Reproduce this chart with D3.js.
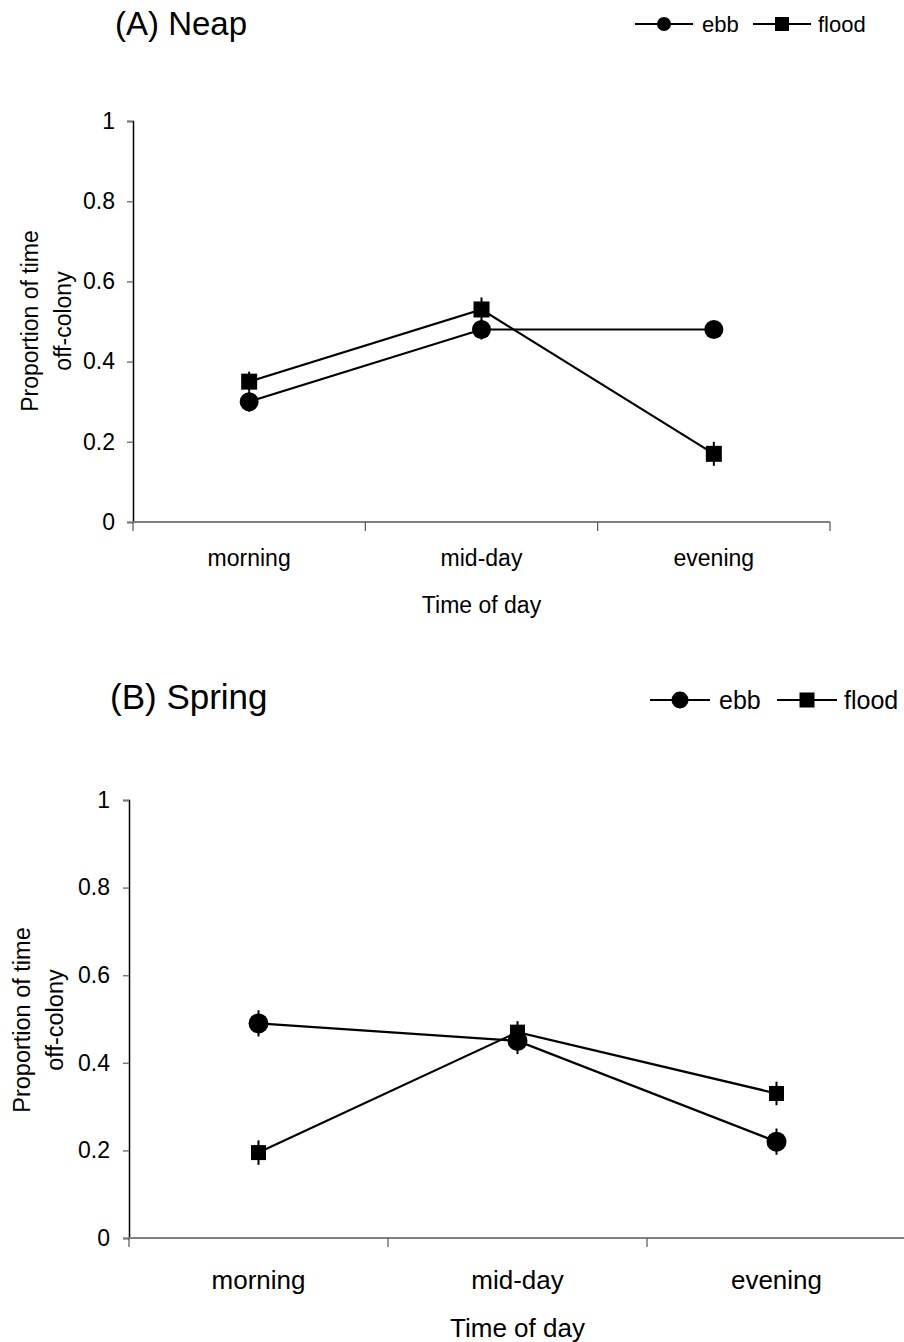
<!DOCTYPE html>
<html>
<head>
<meta charset="utf-8">
<script src="https://cdn.jsdelivr.net/npm/d3@7"></script>
<style>
body { margin: 0; background: #fff; }
svg { font-family: "Liberation Sans", Arial, sans-serif; }
</style>
</head>
<body>
<svg id="chart" width="904" height="1342"></svg>
<script>
// the data
var categories = ["morning", "mid-day", "evening"];
var yTicks = [0, 0.2, 0.4, 0.6, 0.8, 1];

var neapEbb = [0.30, 0.48, 0.48];
var neapEbbErr = [0.025, 0.025, 0.02];
var neapFlood = [0.35, 0.53, 0.17];
var neapFloodErr = [0.025, 0.03, 0.03];

var springEbb = [0.49, 0.45, 0.22];
var springEbbErr = [0.03, 0.03, 0.03];
var springFlood = [0.195, 0.47, 0.33];
var springFloodErr = [0.028, 0.025, 0.027];

var svg = d3.select("#chart");

// one panel: title, legend, axes, two series
function drawPanel(p) {
  var x = d3.scaleBand().domain(categories).range([p.left, p.right]);
  var y = d3.scaleLinear().domain([0, 1]).range([p.bottom, p.top]);
  var g = svg.append("g");

  // title
  g.append("text")
    .attr("x", p.titleX).attr("y", p.titleY)
    .style("font-size", p.titleSize + "px")
    .text(p.title);

  // y axis
  var yAxis = g.append("g")
    .attr("transform", "translate(" + p.left + ",0)")
    .call(d3.axisLeft(y).tickValues(yTicks).tickSize(6).tickPadding(p.tickPad)
      .tickFormat(function(d) { return d3.format("")(d); }));
  yAxis.select(".domain").attr("stroke", "#000").attr("stroke-width", 1.5);
  yAxis.selectAll(".tick line").attr("stroke", "#777").attr("stroke-width", 1.5);
  yAxis.selectAll(".tick text")
    .style("font-size", p.tickSize + "px")
    .style("font-family", "Liberation Sans, Arial, sans-serif")
    .attr("fill", "#000");

  // x axis - ticks sit on category boundaries
  g.append("line")
    .attr("x1", p.left).attr("x2", p.right)
    .attr("y1", p.bottom).attr("y2", p.bottom)
    .attr("stroke", "#808080").attr("stroke-width", 2);
  var bounds = categories.map(function(c) { return x(c); }).concat([p.right]);
  g.selectAll(".xtick").data(bounds).enter().append("line")
    .attr("x1", function(d) { return d; }).attr("x2", function(d) { return d; })
    .attr("y1", p.bottom).attr("y2", p.bottom + 9)
    .attr("stroke", "#555").attr("stroke-width", 1.2);
  g.selectAll(".xlab").data(categories).enter().append("text")
    .attr("x", function(d) { return x(d) + x.bandwidth() / 2; })
    .attr("y", p.catY)
    .attr("text-anchor", "middle")
    .style("font-size", p.catSize + "px")
    .text(function(d) { return d; });
  g.append("text")
    .attr("x", (p.left + p.right) / 2).attr("y", p.xTitleY)
    .attr("text-anchor", "middle")
    .style("font-size", p.catSize + "px")
    .text("Time of day");

  // y axis title, two lines
  [["Proportion of time", p.yTitleX1], ["off-colony", p.yTitleX2]].forEach(function(t) {
    g.append("text")
      .attr("transform", "translate(" + t[1] + "," + p.yTitleY + ") rotate(-90)")
      .attr("text-anchor", "middle")
      .style("font-size", p.ySize + "px")
      .text(t[0]);
  });

  var line = d3.line()
    .x(function(d, i) { return x(categories[i]) + x.bandwidth() / 2; })
    .y(function(d) { return y(d); });

  var series = [
    { vals: p.ebb, err: p.ebbErr, shape: "circle" },
    { vals: p.flood, err: p.floodErr, shape: "square" }
  ];
  series.forEach(function(s) {
    g.append("path").datum(s.vals)
      .attr("d", line).attr("fill", "none")
      .attr("stroke", "#000").attr("stroke-width", 2.2);
    // error bars
    g.selectAll(null).data(s.vals).enter().append("line")
      .attr("x1", function(d, i) { return x(categories[i]) + x.bandwidth() / 2; })
      .attr("x2", function(d, i) { return x(categories[i]) + x.bandwidth() / 2; })
      .attr("y1", function(d, i) { return y(d - s.err[i]); })
      .attr("y2", function(d, i) { return y(d + s.err[i]); })
      .attr("stroke", "#000").attr("stroke-width", 2);
    if (s.shape == "circle") {
      g.selectAll(null).data(s.vals).enter().append("circle")
        .attr("cx", function(d, i) { return x(categories[i]) + x.bandwidth() / 2; })
        .attr("cy", function(d) { return y(d); })
        .attr("r", p.circleR).attr("fill", "#000");
    } else {
      g.selectAll(null).data(s.vals).enter().append("rect")
        .attr("x", function(d, i) { return x(categories[i]) + x.bandwidth() / 2 - p.sq / 2; })
        .attr("y", function(d) { return y(d) - p.sq / 2; })
        .attr("width", p.sq).attr("height", p.sq).attr("fill", "#000");
    }
  });

  // legend
  var L = p.legend;
  g.append("line").attr("x1", L.x1).attr("x2", L.x1 + L.len)
    .attr("y1", L.y).attr("y2", L.y).attr("stroke", "#000").attr("stroke-width", 2);
  g.append("circle").attr("cx", L.x1 + L.len / 2).attr("cy", L.y).attr("r", L.r).attr("fill", "#000");
  g.append("text").attr("x", L.x1 + L.len + 9).attr("y", L.y + L.size * 0.36)
    .style("font-size", L.size + "px").text("ebb");
  g.append("line").attr("x1", L.x2).attr("x2", L.x2 + L.len)
    .attr("y1", L.y).attr("y2", L.y).attr("stroke", "#000").attr("stroke-width", 2);
  g.append("rect").attr("x", L.x2 + L.len / 2 - L.sq / 2).attr("y", L.y - L.sq / 2)
    .attr("width", L.sq).attr("height", L.sq).attr("fill", "#000");
  g.append("text").attr("x", L.x2 + L.len + 7).attr("y", L.y + L.size * 0.36)
    .style("font-size", L.size + "px").text("flood");
}

drawPanel({
  title: "(A) Neap", titleX: 115, titleY: 35, titleSize: 33,
  left: 133, right: 830, top: 121, bottom: 522,
  tickSize: 23, tickPad: 12, catSize: 23, catY: 566, xTitleY: 613,
  ySize: 23, yTitleX1: 38, yTitleX2: 71, yTitleY: 321,
  ebb: neapEbb, ebbErr: neapEbbErr, flood: neapFlood, floodErr: neapFloodErr,
  circleR: 9.5, sq: 16,
  legend: { x1: 635, x2: 753, len: 58, y: 24, r: 7, sq: 14, size: 22 }
});

drawPanel({
  title: "(B) Spring", titleX: 110, titleY: 709, titleSize: 35,
  left: 129, right: 906, top: 800, bottom: 1238,
  tickSize: 23, tickPad: 13, catSize: 26, catY: 1289, xTitleY: 1337,
  ySize: 23.5, yTitleX1: 30, yTitleX2: 63, yTitleY: 1020,
  ebb: springEbb, ebbErr: springEbbErr, flood: springFlood, floodErr: springFloodErr,
  circleR: 10, sq: 15,
  legend: { x1: 650, x2: 777, len: 60, y: 700, r: 8.5, sq: 15, size: 25 }
});
</script>
</body>
</html>
